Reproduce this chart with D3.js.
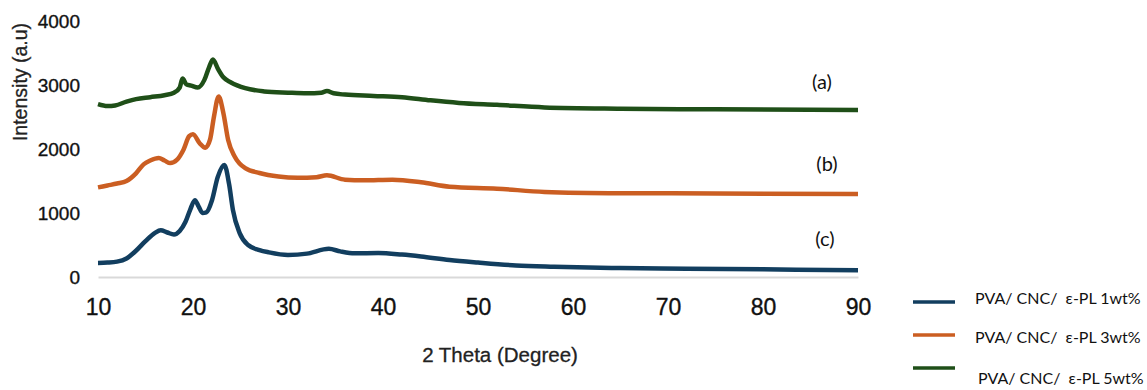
<!DOCTYPE html>
<html lang="en">
<head>
    <meta charset="UTF-8">
    <title>XRD PVA/CNC/e-PL</title>
    <script src="https://d3js.org/d3.v7.min.js"></script>
    <style>
        body { margin: 0; background: #fff; }
        .tick text { fill: #111; stroke: #111; stroke-width: 0.35px; }
    </style>
</head>
<body>
<div id="chart"></div>
<script>
    // XRD patterns, [2 theta, intensity]
    var pva1 = [[10,220],[11,225],[12,240],[13,290],[14,410],[15,560],[16,690],[16.6,730],[17.3,695],[18,665],
        [18.6,720],[19.2,860],[19.7,1050],[20.2,1200],[20.6,1100],[21,1000],[21.4,1010],[22,1200],[22.6,1560],
        [23.3,1750],[23.8,1450],[24.2,1050],[24.9,690],[25.8,500],[27,420],[28,385],[30,345],[32,365],[34.3,440],
        [35.5,400],[37,370],[39.5,375],[42,350],[44,320],[47,265],[50,225],[54,180],[58,160],[65,140],[72,130],
        [80,120],[90,105]];
    var pva3 = [[10,1400],[11,1430],[12,1460],[13,1500],[14,1620],[14.8,1760],[15.5,1820],[16.4,1860],[17,1820],
        [17.6,1780],[18.3,1830],[19,1990],[19.6,2200],[20,2230],[20.7,2090],[21.3,2020],[21.8,2150],[22.2,2500],
        [22.7,2820],[23.2,2560],[23.7,2140],[24.4,1880],[25.5,1700],[27,1625],[29,1570],[31,1550],[33,1560],
        [34.1,1590],[36,1520],[38,1510],[41,1520],[44,1480],[47,1410],[52,1380],[57,1330],[65,1310],[75,1305],
        [90,1295]];
    var pva5 = [[10,2700],[11,2670],[11.8,2680],[13,2740],[14,2780],[15.5,2810],[17,2840],[18,2880],[18.6,2960],
        [18.9,3100],[19.3,3010],[19.8,2990],[20.5,2960],[21.2,3080],[21.7,3280],[22.1,3400],[22.6,3260],[23.2,3120],
        [24,3040],[25.5,2950],[27.5,2900],[30,2880],[32,2870],[33.5,2880],[34.1,2905],[34.8,2870],[36,2850],
        [39,2830],[42,2810],[45,2760],[48,2720],[52,2690],[57,2650],[65,2630],[75,2620],[90,2610]];

    var legendLabels = ["PVA/ CNC/  \u03b5-PL 1wt%", "PVA/ CNC/  \u03b5-PL 3wt%", "PVA/ CNC/  \u03b5-PL 5wt%"];
    var curveLabels = ["(c)", "(b)", "(a)"];
    var xTicks = [10, 20, 30, 40, 50, 60, 70, 80, 90];
    var yTicks = [0, 1000, 2000, 3000, 4000];

    var colors = ["#123e5f", "#cb5e22", "#1f4f18"];
    var series = [pva1, pva3, pva5];

    var width = 1147, height = 390;

    var x = d3.scaleLinear().domain([10, 90]).range([98, 858]);
    var y = d3.scaleLinear().domain([0, 4000]).range([277, 21]);

    var svg = d3.select("#chart").append("svg")
        .attr("width", width)
        .attr("height", height);

    // x axis: only the light grey baseline + labels
    var xAxis = svg.append("g")
        .attr("transform", "translate(0," + y(0) + ")")
        .call(d3.axisBottom(x).tickValues(xTicks).tickSize(0).tickPadding(22));
    xAxis.select(".domain").attr("stroke", "#d9d9d9").attr("stroke-width", 2);
    xAxis.selectAll("text")
        .attr("font-family", "'Liberation Sans Narrow', 'Liberation Sans', Arial, sans-serif")
        .attr("font-size", 23);

    var yAxis = svg.append("g")
        .attr("transform", "translate(" + x(10) + ",0)")
        .call(d3.axisLeft(y).tickValues(yTicks).tickFormat(d3.format("d")).tickSize(0).tickPadding(18));
    yAxis.select(".domain").remove();
    yAxis.selectAll("text")
        .attr("font-family", "'Liberation Sans', Arial, sans-serif")
        .attr("font-size", 19);

    // axis titles
    svg.append("text")
        .attr("transform", "translate(27,82) rotate(-90)")
        .attr("text-anchor", "middle")
        .attr("font-family", "'Liberation Sans', Arial, sans-serif")
        .attr("font-size", 19.5)
        .attr("fill", "#222")
        .attr("stroke", "#222")
        .attr("stroke-width", 0.3)
        .text("Intensity (a.u)");

    svg.append("text")
        .attr("x", 500)
        .attr("y", 362)
        .attr("text-anchor", "middle")
        .attr("font-family", "'Liberation Sans', Arial, sans-serif")
        .attr("font-size", 20.5)
        .attr("fill", "#222")
        .attr("stroke", "#222")
        .attr("stroke-width", 0.3)
        .text("2 Theta (Degree)");

    // curves
    var line = d3.line()
        .x(function (d) { return x(d[0]); })
        .y(function (d) { return y(d[1]); })
        .curve(d3.curveMonotoneX);

    series.forEach(function (s, i) {
        svg.append("path")
            .datum(s)
            .attr("fill", "none")
            .attr("stroke", colors[i])
            .attr("stroke-width", 4.5)
            .attr("stroke-linejoin", "round")
            .attr("d", line);
    });

    // (a) (b) (c) labels
    var labelPos = [[825, 239], [827, 164], [822, 82]];
    curveLabels.forEach(function (t, i) {
        svg.append("text")
            .attr("x", labelPos[i][0])
            .attr("y", labelPos[i][1])
            .attr("dy", "0.35em")
            .attr("text-anchor", "middle")
            .attr("font-family", "Lato, 'Open Sans', sans-serif")
            .attr("font-size", 20)
            .attr("fill", "#111")
            .text(t);
    });

    // legend
    var legendRows = [[302, 298, 975], [335, 337, 975], [368, 378, 978]];
    legendLabels.forEach(function (t, i) {
        svg.append("line")
            .attr("x1", 913).attr("x2", 955)
            .attr("y1", legendRows[i][0]).attr("y2", legendRows[i][0])
            .attr("stroke", colors[i])
            .attr("stroke-width", 3.5);
        svg.append("text")
            .attr("x", legendRows[i][2])
            .attr("y", legendRows[i][1])
            .attr("dy", "0.35em")
            .attr("font-family", "Lato, 'Open Sans', sans-serif")
            .attr("font-size", 16)
            .attr("fill", "#111")
            .style("white-space", "pre")
            .text(t);
    });
</script>
</body>
</html>
